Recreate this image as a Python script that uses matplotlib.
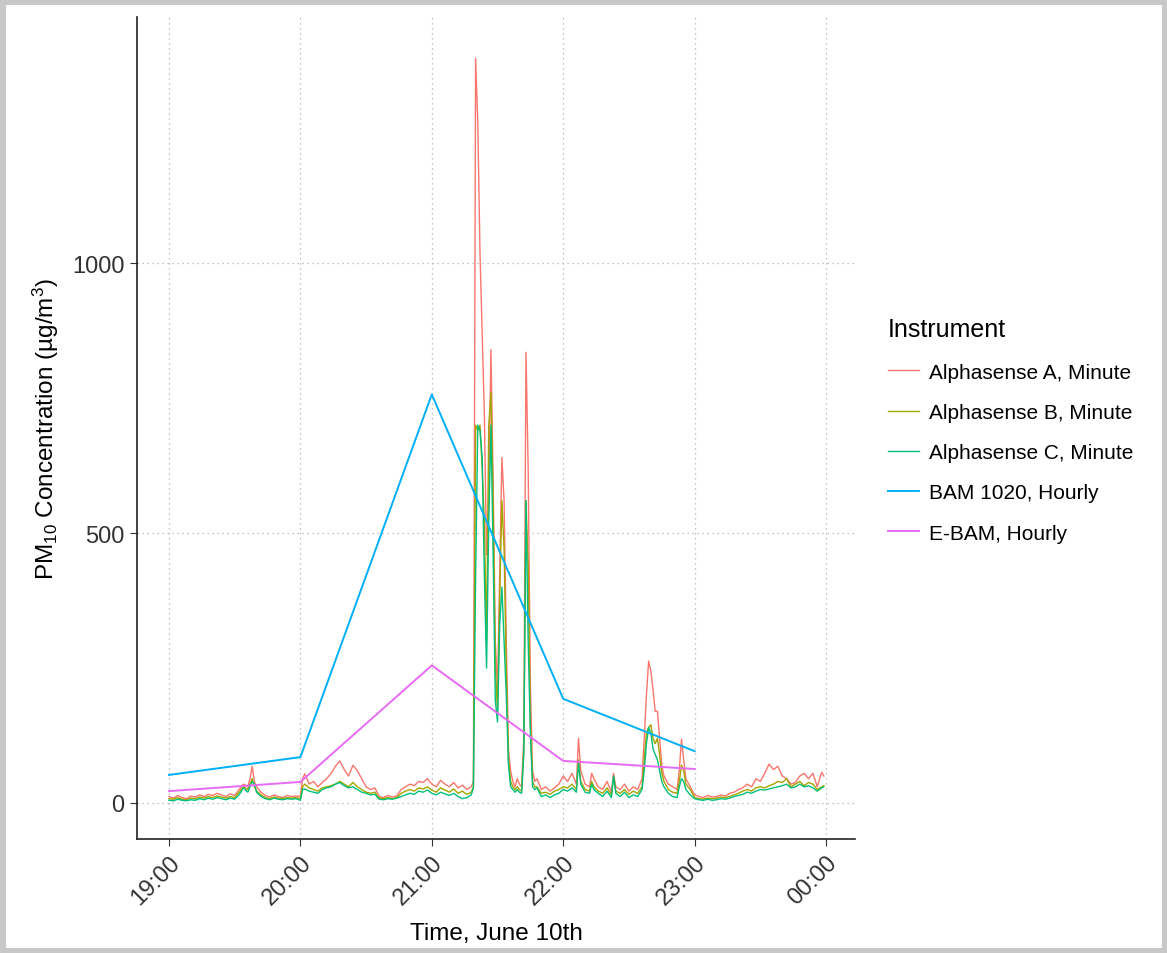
import pandas as pd
import matplotlib
matplotlib.use("Agg")
import matplotlib.pyplot as plt
import matplotlib.dates as mdates
from matplotlib.patches import Rectangle

plt.rcParams['font.family'] = ['Liberation Sans', 'DejaVu Sans']
plt.rcParams['mathtext.default'] = 'regular'

# minute data: minutes after 19:00, June 10th
t_min = [0, 2, 4, 6, 8, 10, 12, 14, 16, 18, 20, 22, 24, 26, 28, 30,
         32, 34, 36, 37, 38, 39, 40, 42, 44, 46, 48, 50, 52, 54, 56, 58,
         60, 61, 62, 64, 66, 68, 70, 72, 74, 76, 78, 80, 82, 84, 86, 88,
         90, 92, 94, 96, 98, 100, 102, 104, 106, 108, 110, 112, 114, 116,
         118, 120, 122, 124, 126, 128, 130, 132, 134, 136, 138,
         139, 140, 141, 142, 143, 144, 145, 146, 147, 148, 149, 150, 151,
         152, 153, 154, 155, 156, 157, 158, 159, 160, 161, 162, 163, 164,
         165, 166, 167, 168,
         170, 172, 174, 176, 178, 180, 182, 184, 186, 187, 188, 190, 192,
         193, 194, 196, 198, 200, 202, 203, 204, 206, 208, 210, 212, 214,
         216, 217, 218, 219, 220, 221, 222, 223, 224, 225, 226, 228, 230,
         232, 233, 234, 235, 236, 238,
         240, 242, 244, 246, 248, 250, 252, 254, 256, 258, 260, 262, 264,
         266, 268, 270, 272, 274, 276, 278, 280, 282, 284, 286, 288, 290,
         292, 294, 296, 298, 299]

alpha_a = [12, 9, 14, 10, 8, 13, 11, 15, 12, 16, 14, 18, 15, 12, 17, 14,
           25, 35, 30, 45, 68, 40, 30, 20, 14, 11, 15, 12, 10, 14, 12, 13,
           12, 45, 54, 35, 40, 30, 38, 45, 55, 68, 78, 62, 50, 70, 60, 45,
           30, 25, 28, 12, 10, 14, 11, 13, 25, 30, 35, 32, 40, 38,
           45, 35, 30, 42, 35, 30, 38, 28, 33, 25, 30,
           40, 1380, 1260, 1020, 870, 720, 460, 560, 840, 600, 300, 210, 420,
           640, 560, 300, 100, 60, 40, 30, 45, 35, 30, 120, 835, 620,
           220, 60, 40, 45,
           25, 30, 22, 28, 35, 50, 40, 55, 35, 120, 60, 35, 30,
           55, 45, 30, 25, 40, 20, 55, 30, 25, 35, 22, 30, 25,
           45, 120, 200, 263, 245, 210, 170, 170, 120, 70, 50, 35, 30,
           25, 60, 118, 80, 45, 30,
           15, 12, 10, 14, 11, 12, 15, 13, 18, 20, 25, 28, 35,
           30, 45, 40, 55, 72, 62, 68, 50, 45, 35, 38, 50, 55,
           45, 55, 30, 57, 50]

alpha_b = [8, 7, 10, 7, 6, 9, 8, 11, 9, 12, 10, 13, 11, 9, 12, 10,
           20, 30, 25, 35, 45, 30, 22, 15, 10, 8, 11, 9, 8, 10, 9, 10,
           8, 30, 35, 28, 25, 22, 28, 30, 32, 35, 40, 35, 30, 38, 30, 25,
           20, 18, 20, 9, 8, 10, 8, 10, 18, 22, 25, 22, 28, 26,
           30, 24, 20, 28, 24, 20, 26, 18, 22, 16, 20,
           30, 700, 690, 700, 620, 520, 300, 700, 760, 560, 250, 170, 380,
           560, 470, 250, 80, 40, 30, 25, 30, 25, 22, 100, 560, 440,
           150, 40, 30, 30,
           18, 20, 16, 22, 25, 30, 28, 35, 25, 80, 40, 25, 22,
           40, 30, 22, 18, 28, 15, 50, 22, 18, 25, 16, 22, 18,
           30, 80, 130, 140, 145, 120, 110, 120, 90, 55, 40, 25, 20,
           18, 40, 70, 60, 35, 25,
           10, 8, 7, 9, 8, 9, 11, 10, 12, 15, 18, 22, 25,
           22, 28, 30, 28, 32, 35, 40, 38, 45, 30, 35, 40, 32,
           38, 35, 25, 30, 32]

alpha_c = [5, 4, 7, 5, 4, 6, 5, 8, 6, 9, 7, 10, 8, 6, 9, 7,
           15, 28, 20, 30, 40, 35, 20, 12, 8, 6, 9, 7, 6, 8, 7, 8,
           5, 25, 26, 22, 20, 18, 25, 28, 30, 35, 38, 32, 28, 30, 25, 20,
           18, 15, 16, 7, 6, 8, 7, 9, 12, 15, 18, 16, 22, 20,
           24, 18, 15, 20, 17, 14, 18, 12, 8, 10, 15,
           28, 420, 700, 690, 640, 420, 250, 520, 700, 460, 190, 150, 330,
           400, 300, 200, 70, 30, 25, 20, 25, 20, 18, 90, 560, 300,
           130, 30, 25, 28,
           12, 15, 10, 15, 18, 25, 22, 28, 20, 75, 35, 20, 18,
           35, 25, 18, 12, 22, 10, 50, 18, 12, 20, 10, 15, 12,
           25, 60, 110, 140, 130, 100, 90, 80, 60, 40, 30, 18, 12,
           10, 30, 45, 40, 25, 15,
           8, 6, 5, 7, 5, 6, 8, 7, 9, 12, 14, 16, 20,
           18, 22, 25, 24, 26, 28, 30, 32, 35, 28, 30, 35, 30,
           32, 28, 22, 28, 30]

# hourly data
t_hour = [0, 60, 120, 180, 240]
bam_1020 = [52, 85, 757, 193, 96]
e_bam = [22, 39, 255, 78, 63]

start = pd.Timestamp('2018-06-10 19:00')
tm = start + pd.to_timedelta(t_min, unit='m')
th = start + pd.to_timedelta(t_hour, unit='m')

fig = plt.figure(figsize=(11.67, 9.54), dpi=100)
ax = fig.add_axes([0.1174, 0.1195, 0.6152, 0.8615])

lw = 1.0
ax.plot(tm, alpha_a, color='#F8766D', lw=lw, label='Alphasense A, Minute')
ax.plot(tm, alpha_b, color='#A3A500', lw=lw, label='Alphasense B, Minute')
ax.plot(tm, alpha_c, color='#00BF7D', lw=lw, label='Alphasense C, Minute')
ax.plot(th, bam_1020, color='#00B0F6', lw=1.4, label='BAM 1020, Hourly')
ax.plot(th, e_bam, color='#E76BF3', lw=1.4, label='E-BAM, Hourly')

ax.set_xlim(start - pd.Timedelta(minutes=14.6), start + pd.Timedelta(minutes=313.2))
ax.set_ylim(-66.7, 1456)
ax.set_yticks([0, 500, 1000])
ax.xaxis.set_major_locator(mdates.HourLocator())
ax.xaxis.set_major_formatter(mdates.DateFormatter('%H:%M'))
ax.grid(True, color='#b0b0b0', linestyle=(0, (1, 3)), linewidth=0.9)
ax.set_axisbelow(True)

for s in ['top', 'right']:
    ax.spines[s].set_visible(False)
for s in ['left', 'bottom']:
    ax.spines[s].set_color('#222222')
    ax.spines[s].set_linewidth(1.2)

ax.tick_params(axis='both', labelsize=17, length=5, color='#333333',
               labelcolor='#333333')
ax.tick_params(axis='y', pad=4)
plt.setp(ax.get_xticklabels(), rotation=45, ha='right', rotation_mode='anchor')

ax.set_xlabel('Time, June 10th', fontsize=17.5, labelpad=10)
ax.set_ylabel('PM$_{10}$ Concentration (µg/m$^3$)', fontsize=17.5, labelpad=8)

leg = fig.legend(loc='upper left', bbox_to_anchor=(0.7446, 0.686), frameon=False,
                 title='Instrument', fontsize=15, title_fontsize=18,
                 handlelength=1.5, labelspacing=1.02, handletextpad=0.5)
leg._legend_box.align = 'left'

# screenshot frame
fig.patches.append(Rectangle((0, 0), 1, 1, transform=fig.transFigure,
                             fill=False, edgecolor='#c8c8c8', linewidth=8))

fig.savefig('out.png', dpi=100)
